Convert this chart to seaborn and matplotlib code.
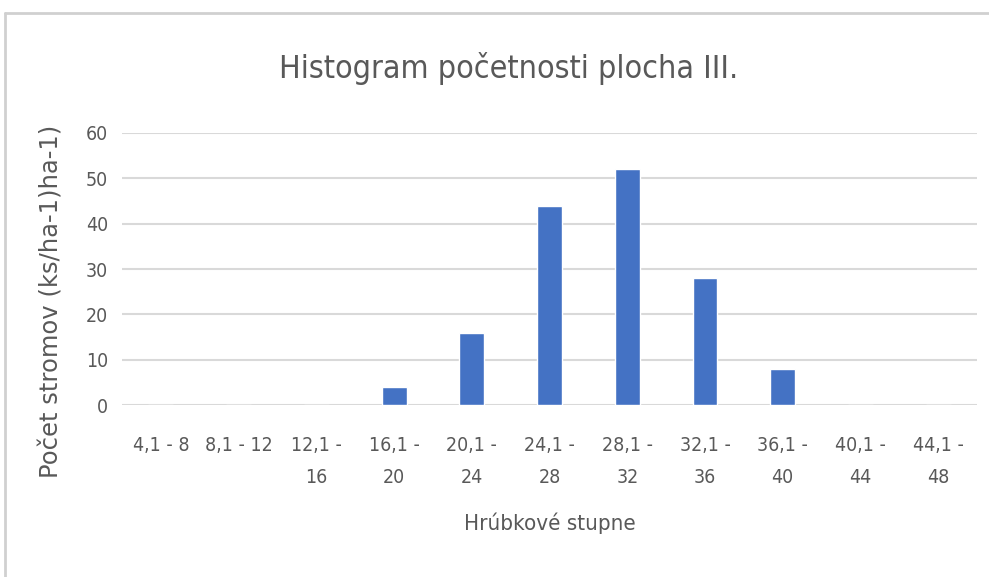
import matplotlib
matplotlib.use("Agg")
import matplotlib.pyplot as plt
import pandas as pd
import seaborn as sns

categories = ["4,1 - 8", "8,1 - 12", "12,1 -\n16", "16,1 -\n20", "20,1 -\n24",
              "24,1 -\n28", "28,1 -\n32", "32,1 -\n36", "36,1 -\n40",
              "40,1 -\n44", "44,1 -\n48"]
counts = [0, 0, 0, 4, 16, 44, 52, 28, 8, 0, 0]

df = pd.DataFrame({"stupen": categories, "pocet": counts})

sns.set_theme(style="white")
plt.rcParams["font.family"] = ["DejaVu Sans"]
plt.rcParams["font.stretch"] = "condensed"
grey = "#595959"

fig = plt.figure(figsize=(9.89, 5.77), dpi=100)
ax = fig.add_axes([0.1234, 0.298, 0.8645, 0.4715])

sns.barplot(data=df, x="stupen", y="pocet", color="#4472C4", width=0.32,
            saturation=1, ax=ax, zorder=3)

ax.set_ylim(0, 60)
ax.set_yticks(range(0, 61, 10))
ax.set_xlim(-0.5, len(categories) - 0.5)
ax.grid(axis="y", color="#d9d9d9", linewidth=1.5, zorder=0)
for s in ax.spines.values():
    s.set_visible(False)
ax.tick_params(axis="both", length=0, labelsize=14, colors=grey)
ax.tick_params(axis="x", pad=22)
ax.tick_params(axis="y", pad=10)
for lbl in ax.get_xticklabels():
    lbl.set_linespacing(1.9)
    lbl.set_verticalalignment("top")

ax.set_xlabel("Hrúbkové stupne", fontsize=16, color=grey)
ax.xaxis.set_label_coords(0.5, -0.395)
ax.set_ylabel("Počet stromov (ks/ha-1)ha-1)", fontsize=17.5, color=grey,
              fontstretch="normal")
ax.yaxis.set_label_coords(-0.069, 0.38)
fig.text(0.514, 0.882, "Histogram početnosti plocha III.", fontsize=23,
         color=grey, ha="center", va="center")

# outer chart frame (top and left edges visible)
fig.add_artist(plt.Line2D([0.005, 1.0], [0.977, 0.977], color="#d0d0d0", lw=2,
                          transform=fig.transFigure))
fig.add_artist(plt.Line2D([0.005, 0.005], [0.0, 0.977], color="#d0d0d0", lw=2,
                          transform=fig.transFigure))

fig.savefig("out.png", dpi=100, facecolor="white")
